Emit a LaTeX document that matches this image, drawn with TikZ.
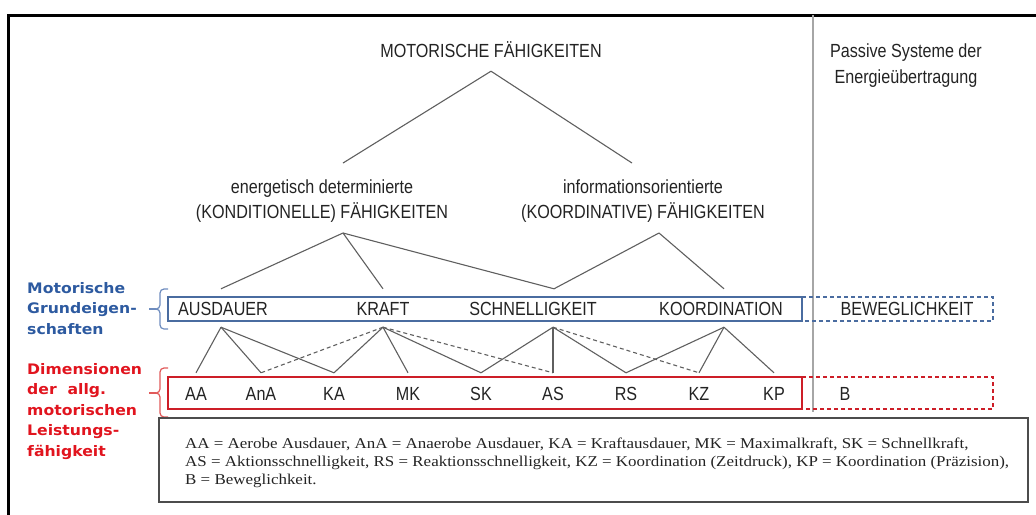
\documentclass[tikz,border=0pt]{standalone}
\usepackage{fontspec}
\setmainfont{Liberation Sans}[FakeStretch=0.85]
\newfontfamily\sidefont{DejaVu Sans}[FakeStretch=1.08]
\newfontfamily\legendfont{Liberation Serif}[FakeStretch=1.13]
\usetikzlibrary{positioning,calc}
\definecolor{boxblue}{RGB}{74,108,160}
\definecolor{boxred}{RGB}{205,30,40}
\definecolor{braceblue}{RGB}{110,140,190}
\definecolor{bracered}{RGB}{225,90,90}
\definecolor{sideblue}{RGB}{45,90,160}
\definecolor{sidered}{RGB}{225,20,30}
\definecolor{linegray}{RGB}{95,95,95}
\definecolor{textgray}{RGB}{35,35,35}
\tikzset{
    lbl/.style={inner sep=0pt, text=textgray, font=\fontsize{19}{22}\selectfont},
    caps/.style={lbl, text height=14pt, text depth=0pt},
    prop/.style={caps, minimum height=38pt},
    dim/.style={caps, minimum height=40pt},
    link/.style={draw=linegray, line width=1.1pt},
    dlink/.style={link, dash pattern=on 4pt off 3pt},
    sidetext/.style={inner sep=0pt, align=left, font=\sidefont\bfseries\fontsize{14.5}{20.5}\selectfont},
    bluebrace/.style={draw=braceblue, line width=1.2pt},
    redbrace/.style={draw=bracered, line width=1.2pt}
}

\begin{document}
\begin{tikzpicture}[x=1pt, y=-1pt]
    \useasboundingbox (0,0) rectangle (1036,514);
    % frame and divider
    \draw [line width=3pt] (8,540) -- (8,15) -- (1060,15);
    \draw [draw=gray!70, line width=1.5pt] (813,15) -- (813,412);

    % headings
    \node [caps, minimum height=42pt] (motor) at (491,50) {MOTORISCHE FÄHIGKEITEN};
    \node [lbl, anchor=base] (kond1) at (322,193) {energetisch determinierte};
    \node [lbl, anchor=base] (kond2) at (322,218) {(KONDITIONELLE) FÄHIGKEITEN};
    \node [lbl, anchor=base] (koord1) at (643,193) {informationsorientierte};
    \node [lbl, anchor=base] (koord2) at (643,218) {(KOORDINATIVE) FÄHIGKEITEN};
    \node [lbl, anchor=base] (passiv1) at (906,57) {Passive Systeme der};
    \node [lbl, anchor=base] (passiv2) at (906,83) {Energieübertragung};

    % Grundeigenschaften
    \node [prop] (aus) at (223,308) {AUSDAUER};
    \node [prop] (kra) at (383,308) {KRAFT};
    \node [prop] (sch) at (533,308) {SCHNELLIGKEIT};
    \node [prop] (koo) at (721,308) {KOORDINATION};
    \node [prop] (bew) at (907,308) {BEWEGLICHKEIT};
    \draw [draw=boxblue, line width=1.2pt] (168,297) rectangle (802,321);
    \draw [draw=boxblue, line width=1.2pt, dash pattern=on 4pt off 3pt] (802,297) -- (993,297) -- (993,321) -- (802,321);

    % Dimensionen
    \node [dim] (aa) at (196,393) {AA};
    \node [dim] (ana) at (261,393) {AnA};
    \node [dim] (ka) at (334,393) {KA};
    \node [dim] (mk) at (408,393) {MK};
    \node [dim] (sk) at (481,393) {SK};
    \node [dim] (as) at (553,393) {AS};
    \node [dim] (rs) at (626,393) {RS};
    \node [dim] (kz) at (699,393) {KZ};
    \node [dim] (kp) at (774,393) {KP};
    \node [dim] (b) at (845,393) {B};
    \draw [draw=boxred, line width=1.2pt] (168,377) rectangle (802,409);
    \draw [draw=boxred, line width=1.2pt, dash pattern=on 4pt off 3pt] (802,377) -- (993,377) -- (993,409) -- (802,409);

    % upper tree
    \coordinate (kond-up) at ([xshift=21pt, yshift=16pt]kond1.north);
    \coordinate (koord-up) at ([xshift=-11pt, yshift=16pt]koord1.north);
    \coordinate (kond-down) at ([xshift=21pt, yshift=-15pt]kond2.base);
    \coordinate (koord-down) at ([xshift=16pt, yshift=-15pt]koord2.base);
    \path [link] (motor.south) -- (kond-up);
    \path [link] (motor.south) -- (koord-up);
    \path [link] (kond-down) -- ([xshift=-2pt]aus.north);
    \path [link] (kond-down) -- (kra.north);
    \path [link] (kond-down) -- ([xshift=21pt]sch.north);
    \path [link] (koord-down) -- ([xshift=21pt]sch.north);
    \path [link] (koord-down) -- ([xshift=3pt]koo.north);

    % lower tree
    \path [link] ([xshift=-2pt]aus.south) -- (aa.north);
    \path [link] ([xshift=-2pt]aus.south) -- (ana.north);
    \path [link] ([xshift=-2pt]aus.south) -- (ka.north);
    \path [dlink] (kra.south) -- (ana.north);
    \path [link] (kra.south) -- (ka.north);
    \path [link] (kra.south) -- (mk.north);
    \path [link] (kra.south) -- (sk.north);
    \path [dlink] (kra.south) -- (as.north);
    \path [link] ([xshift=20pt]sch.south) -- (sk.north);
    \path [link] ([xshift=20pt]sch.south) -- (as.north);
    \path [link] ([xshift=20pt]sch.south) -- (rs.north);
    \path [dlink] ([xshift=20pt]sch.south) -- (kz.north);
    \path [link] ([xshift=3pt]koo.south) -- (rs.north);
    \path [link] ([xshift=3pt]koo.south) -- (kz.north);
    \path [link] ([xshift=3pt]koo.south) -- (kp.north);

    % side labels with braces
    \node [sidetext, text=sideblue, anchor=north west] (grund) at (27,282) {Motorische\\Grundeigen-\\schaften};
    \node [sidetext, text=sidered, anchor=north west] (dimen) at (27,363) {Dimensionen\\der\ \ allg.\\motorischen\\Leistungs-\\fähigkeit};
    \draw [bluebrace] (168,289) -- (164,289) to[out=180,in=90] (160,293) -- (160,305) to[out=-90,in=0] (156,309) to[out=0,in=90] (160,313) -- (160,325) to[out=-90,in=180] (164,329) -- (168,329);
    \draw [bluebrace] (156,309) -- (149,309);
    \draw [redbrace] (168,368) -- (164,368) to[out=180,in=90] (160,372) -- (160,389) to[out=-90,in=0] (156,393) to[out=0,in=90] (160,397) -- (160,413) to[out=-90,in=180] (164,417) -- (168,417);
    \draw [redbrace] (156,393) -- (149,393);

    % legend
    \draw [draw=black!70, line width=1.3pt] (159,418) rectangle (1028,502);
    \node [inner sep=0pt, anchor=north west, align=left, text=textgray, font=\legendfont\fontsize{15}{18.3}\selectfont] (legend) at (185,437.5)
        {AA = Aerobe Ausdauer, AnA = Anaerobe Ausdauer, KA = Kraftausdauer, MK = Maximalkraft, SK = Schnellkraft,\\
         AS = Aktionsschnelligkeit, RS = Reaktionsschnelligkeit, KZ = Koordination (Zeitdruck), KP = Koordination (Präzision),\\
         B = Beweglichkeit.};
\end{tikzpicture}
\end{document}
